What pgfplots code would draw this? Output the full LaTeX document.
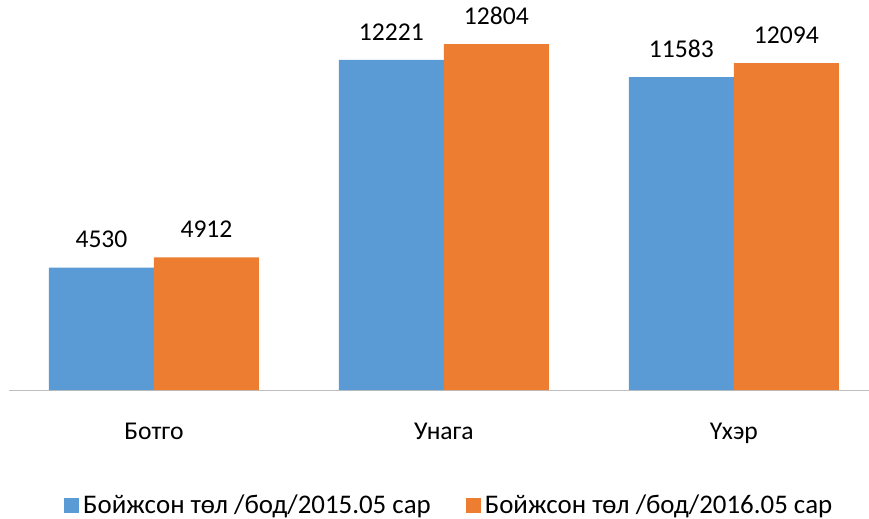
\documentclass[border=0pt]{standalone}
\usepackage{fontspec}
\setmainfont{Carlito}
\usepackage{pgfplots}
\pgfplotsset{compat=1.18}
\definecolor{barblue}{HTML}{5B9BD5}
\definecolor{barorange}{HTML}{ED7D31}
\definecolor{axisgray}{HTML}{BFBFBF}
\begin{document}
\begin{tikzpicture}
\begin{axis}[
    at={(0,0)}, anchor=south west,
    scale only axis,
    width=860bp, height=378.3bp,
    ybar=0pt, bar width=105bp,
    xmin=-0.5, xmax=2.466,
    ymin=0, ymax=14000,
    axis x line=bottom, axis y line=none,
    x axis line style={-, draw=axisgray, line width=1bp},
    xtick=data,
    xticklabels={Ботго, Унага, Үхэр},
    xtick style={draw=none},
    ytick=\empty,
    xticklabel style={font=\fontsize{25.7}{31}\selectfont, yshift=-27bp},
    /pgf/number format/1000 sep={},
    /pgf/number format/assume math mode=true,
    nodes near coords,
    every node near coord/.append style={font=\fontsize{25.7}{31}\selectfont, text=black, yshift=16bp},
    legend style={draw=none, at={(0.512,-0.304)}, anchor=center,
        legend columns=2, font=\fontsize{27}{32}\selectfont,
        /tikz/every even column/.append style={column sep=33bp}},
    legend image code/.code={\fill[#1] (0bp,-7.5bp) rectangle (15bp,7.5bp); \path (17bp,0bp);},
]
\addplot[fill=barblue, draw=none] coordinates {(0,4530) (1,12221) (2,11583)};
\addplot[fill=barorange, draw=none] coordinates {(0,4912) (1,12804) (2,12094)};
\legend{Бойжсон төл /бод/2015.05 сар, Бойжсон төл /бод/2016.05 сар}
\end{axis}
\pgfresetboundingbox
\path (-9bp,-129bp) rectangle (860bp,390bp);
\end{tikzpicture}
\end{document}
